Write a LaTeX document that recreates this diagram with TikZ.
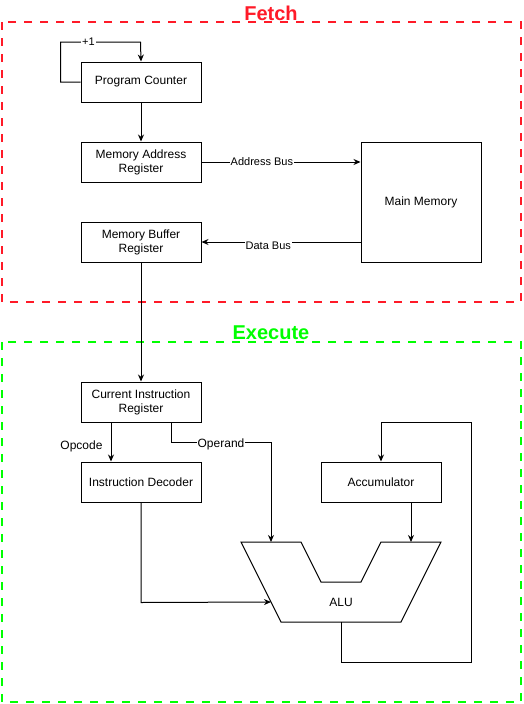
\documentclass[tikz,border=0pt]{standalone}
\usepackage{fontspec}
\setmainfont{Liberation Sans}
\usetikzlibrary{arrows.meta}

\definecolor{fetchred}{RGB}{255,26,40}
\definecolor{execgreen}{RGB}{0,255,0}

\begin{document}
\begin{tikzpicture}[x=1pt, y=-1pt, line width=1pt, >={Stealth[length=7pt,width=6pt]},
	box/.style={draw, minimum width=120pt, minimum height=40pt, inner sep=0pt, align=center, font=\fontsize{12}{14}\selectfont},
	stage/.style={draw, line width=2pt, dash pattern=on 8pt off 8pt},
	title/.style={font=\fontsize{20}{22}\selectfont\bfseries},
	lbl/.style={fill=white, inner sep=1pt, font=\fontsize{11}{13}\selectfont},
	biglbl/.style={fill=white, inner sep=1pt, font=\fontsize{12}{14}\selectfont}]
		\useasboundingbox (0,0) rectangle (523,704);
		% stages
		\draw[stage, fetchred] (2,22) rectangle (521,302);
		\draw[stage, execgreen] (2,342) rectangle (521,702);
		\node[title, text=fetchred] at (271,13) (fetch) {Fetch};
		\node[title, text=execgreen] at (271,333) (execute) {Execute};
		% fetch
		\node[box] at (141,82) (pc) {Program Counter};
		\node[box] at (141,162) (mar) {Memory Address\\Register};
		\node[box] at (141,242) (mbr) {Memory Buffer\\Register};
		\node[box, minimum height=120pt] at (421,202) (mem) {Main Memory};
		\draw[->] (pc.west) -- ++(-20,0) -- ++(0,-40) -- node[lbl, pos=0.35] (inc) {+1} ++(80,0) -- (pc.north);
		\draw[->] (pc.south) -- (mar.north);
		\draw[->] (mar.east) -- node[lbl, pos=0.38] (abus) {Address Bus} (mar.east -| mem.west);
		\draw[->] (mbr.east -| mem.west) -- node[lbl, pos=0.58, yshift=-4pt] (dbus) {Data Bus} (mbr.east);
		% execute
		\node[box] at (141,402) (cir) {Current Instruction\\Register};
		\node[box] at (141,482) (dec) {Instruction Decoder};
		\node[box] at (381,482) (acc) {Accumulator};
		\draw (241,542) -- (301,542) -- (321,582) -- (361,582) -- (381,542) -- (441,542) -- (401,622) -- (281,622) -- cycle;
		\node[font=\fontsize{12}{14}\selectfont] at (341,602) (alu) {ALU};
		\coordinate (alu-a) at (271,542);
		\coordinate (alu-b) at (411,542);
		\coordinate (alu-c) at (271,602);
		\coordinate (alu-out) at (341,622);
		\draw[->] (mbr.south) -- (cir.north);
		\draw[->] ([xshift=-30pt]cir.south) -- ([xshift=-30pt]dec.north);
		\node[biglbl] at (81.5,446) (opcode) {Opcode};
		\draw[->] ([xshift=30pt]cir.south) -- ++(0,20) -- node[biglbl, pos=0.5, yshift=-2pt] (operand) {Operand} ++(100,0) -- (alu-a);
		\draw[->] ([xshift=30pt]acc.south) -- (alu-b);
		\draw[->] (dec.south) -- ++(0,100) -- (alu-c);
		\draw[->] (alu-out) -- ++(0,40) -- ++(130,0) -- ++(0,-240) -- ++(-90,0) -- (acc.north);
	\end{tikzpicture}
\end{document}
